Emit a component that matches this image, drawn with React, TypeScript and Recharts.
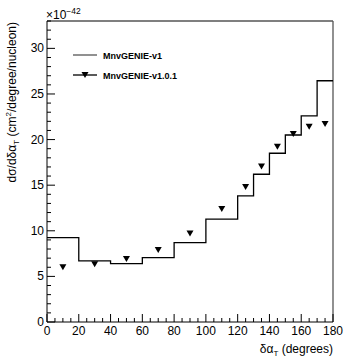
import { ComposedChart, Line, ReferenceLine, Scatter, XAxis, YAxis } from 'recharts'

// MnvGENIE-v1 histogram (bin low edges + last upper edge), units of 1e-42
const binEdges = [0, 20, 40, 60, 80, 100, 120, 130, 140, 150, 160, 170, 180]
const v1Values = [9.25, 6.7, 6.4, 7.06, 8.7, 11.27, 13.83, 16.2, 18.5, 20.5, 22.6, 26.45]

// MnvGENIE-v1.0.1 points at bin centres
const binCenters = [10, 30, 50, 70, 90, 110, 125, 135, 145, 155, 165, 175]
const v101Values = [6.0, 6.33, 6.9, 7.9, 9.7, 12.4, 14.8, 17.05, 19.2, 20.6, 21.4, 21.7]

const xMajorTicks = [0, 20, 40, 60, 80, 100, 120, 140, 160, 180]
const yMajorTicks = [0, 5, 10, 15, 20, 25, 30]
const xMinorStep = 5
const yMinorStep = 1
const yMax = 33

const xTicks: number[] = []
for (let v = 0; v <= 180; v += xMinorStep) xTicks.push(v)
const yTicks: number[] = []
for (let v = 0; v <= yMax; v += yMinorStep) yTicks.push(v)

const histData = binEdges.map((x, i) => ({
  x,
  h: v1Values[Math.min(i, v1Values.length - 1)],
}))
const pointData = binCenters.map((x, i) => ({ x, m: v101Values[i] }))

const font = '"Liberation Sans", Arial, Helvetica, sans-serif'

function XTick({ x, y, payload }: any) {
  const v = payload.value
  const major = xMajorTicks.includes(v)
  return (
    <g>
      <line x1={x} x2={x} y1={y} y2={y - (major ? 8 : 4)} stroke="#000" />
      {major && (
        <text x={x} y={y + 13} textAnchor="middle" fontSize={12} fontFamily={font} fill="#000">
          {v}
        </text>
      )}
    </g>
  )
}

function YTick({ x, y, payload }: any) {
  const v = payload.value
  const major = yMajorTicks.includes(v)
  return (
    <g>
      <line x1={x} x2={x + (major ? 8 : 4)} y1={y} y2={y} stroke="#000" />
      {major && (
        <text x={x - 3} y={y + 4} textAnchor="end" fontSize={12} fontFamily={font} fill="#000">
          {v}
        </text>
      )}
    </g>
  )
}

function TriangleDown({ cx, cy }: any) {
  if (cx == null || cy == null) return null
  return <path d={`M${cx - 3.5},${cy - 3} L${cx + 3.5},${cy - 3} L${cx},${cy + 3} Z`} fill="#000" />
}

export default function App() {
  return (
    <div style={{ position: 'relative', width: 346, height: 360, background: '#fff' }}>
      <style>{'body{margin:0}'}</style>
      <ComposedChart
        width={346}
        height={360}
        margin={{ top: 21, right: 13, bottom: 0, left: 0 }}
      >
        <XAxis
          dataKey="x"
          type="number"
          domain={[0, 180]}
          ticks={xTicks}
          interval={0}
          height={38}
          tickSize={0}
          tickMargin={0}
          tick={<XTick />}
          axisLine={{ stroke: '#000' }}
          allowDataOverflow
        />
        <YAxis
          type="number"
          domain={[0, yMax]}
          ticks={yTicks}
          interval={0}
          width={47}
          tickSize={0}
          tickMargin={0}
          tick={<YTick />}
          axisLine={{ stroke: '#000' }}
          allowDataOverflow
        />
        <ReferenceLine y={yMax} stroke="#555" strokeWidth={1.3} />
        <ReferenceLine x={180} stroke="#555" strokeWidth={1.3} />
        <Line
          data={histData}
          dataKey="h"
          type="stepAfter"
          stroke="#000"
          strokeWidth={1.3}
          dot={false}
          isAnimationActive={false}
        />
        <Scatter
          data={pointData}
          dataKey="m"
          fill="#000"
          shape={<TriangleDown />}
          isAnimationActive={false}
        />
      </ComposedChart>
      <svg
        width={346}
        height={360}
        style={{ position: 'absolute', left: 0, top: 0, pointerEvents: 'none' }}
        fontFamily={font}
      >
        {/* exponent */}
        <text x={46} y={19} fontSize={12}>
          ×10
          <tspan dy={-5} fontSize={8.5}>
            −42
          </tspan>
        </text>
        {/* legend */}
        <line x1={73} x2={97} y1={55} y2={55} stroke="#555" strokeWidth={1.3} />
        <text x={103} y={58.5} fontSize={9} fontWeight="bold">
          MnvGENIE-v1
        </text>
        <line x1={73} x2={97} y1={75} y2={75} stroke="#000" strokeWidth={1.3} />
        <TriangleDown cx={85} cy={75} />
        <text x={103} y={78.5} fontSize={9} fontWeight="bold">
          MnvGENIE-v1.0.1
        </text>
        {/* x title */}
        <text x={333} y={353} textAnchor="end" fontSize={12}>
          δα
          <tspan dy={3} fontSize={8}>
            T
          </tspan>
          <tspan dy={-3}> (degrees)</tspan>
        </text>
        {/* y title */}
        <text transform="translate(15.5,22) rotate(-90)" textAnchor="end" fontSize={12}>
          dσ/dδα
          <tspan dy={3} fontSize={8}>
            T
          </tspan>
          <tspan dy={-3}> (cm</tspan>
          <tspan dy={-5} fontSize={8}>
            2
          </tspan>
          <tspan dy={5}>/degree/nucleon)</tspan>
        </text>
      </svg>
    </div>
  )
}
